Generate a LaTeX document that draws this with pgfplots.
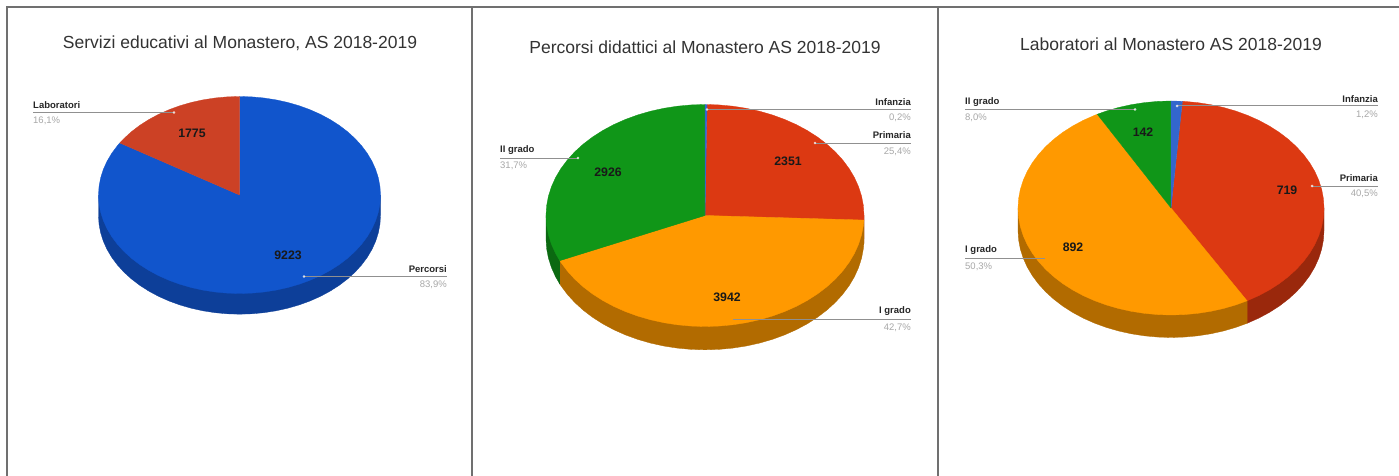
\documentclass[border=0pt]{standalone}
\usepackage{fontspec}
\setmainfont{Liberation Sans}
\usepackage{pgfplots}
\pgfplotsset{compat=1.18}

\definecolor{gblue}{HTML}{1155CC}
\definecolor{gblueD}{HTML}{0D3F99}
\definecolor{sblue}{HTML}{3366CC}
\definecolor{bric}{HTML}{CC4125}
\definecolor{gred}{HTML}{DC3912}
\definecolor{gredD}{HTML}{9A280C}
\definecolor{gorange}{HTML}{FF9900}
\definecolor{gorangeD}{HTML}{B26B00}
\definecolor{ggreen}{HTML}{109618}
\definecolor{ggreenD}{HTML}{0B6911}
\definecolor{framecol}{HTML}{707070}
\definecolor{leader}{HTML}{909090}
\definecolor{pctcol}{HTML}{A8A8A8}

% Each pie lives in its own axis, in which the top face is the unit circle.
\pgfplotsset{
  pie axis/.style={
    scale only axis, hide axis, clip=false, anchor=south west,
    xmin=-1, xmax=1, ymin=-1, ymax=1},
  slice/.style={fill=#1, draw=#1, line width=0.3pt, mark=none},
  lead/.style={draw=leader, line width=1pt, mark=none},
}
\newcommand{\ttl}[3]{\node[font=\fontsize{17.5}{20}\selectfont, text=black!80] at (axis cs:#1,#2) {#3};}
\newcommand{\catL}[3]{\node[anchor=west, inner sep=0pt, font=\fontsize{9.5}{11}\selectfont\bfseries, text=black!85] at (axis cs:#1,#2) {#3};}
\newcommand{\catR}[3]{\node[anchor=east, inner sep=0pt, font=\fontsize{9.5}{11}\selectfont\bfseries, text=black!85] at (axis cs:#1,#2) {#3};}
\newcommand{\pctL}[3]{\node[anchor=west, inner sep=0pt, font=\fontsize{9.5}{11}\selectfont, text=pctcol] at (axis cs:#1,#2) {#3};}
\newcommand{\pctR}[3]{\node[anchor=east, inner sep=0pt, font=\fontsize{9.5}{11}\selectfont, text=pctcol] at (axis cs:#1,#2) {#3};}
\newcommand{\val}[3]{\node[inner sep=0pt, font=\fontsize{12.3}{14}\selectfont\bfseries, text=black!90] at (axis cs:#1,#2) {#3};}

\begin{document}
\begin{tikzpicture}

% White sheet that fixes the size of the picture
\begin{axis}[at={(0pt,0pt)}, anchor=south west, scale only axis, hide axis,
    width=1399pt, height=476pt, xmin=0, xmax=1399, ymin=0, ymax=476]
\addplot[fill=white, draw=none, mark=none] coordinates {(0,0)(1399,0)(1399,476)(0,476)} -- cycle;
\end{axis}

% Pie 1: Percorsi 9223, Laboratori 1775
\begin{axis}[pie axis, at={(98.5pt,182.5pt)}, width=282pt, height=197pt]
\addplot[slice=gblueD] coordinates {(1,0)(1,-.21)(.9962,-.2972)(.9848,-.3836)(.9659,-.4688)(.9397,-.552)(.9063,-.6326)(.866,-.71)(.8192,-.7836)(.766,-.8528)(.7071,-.9171)(.6428,-.976)(.5736,-1.0292)(.5,-1.076)(.4226,-1.1163)(.342,-1.1497)(.2588,-1.1759)(.1736,-1.1948)(.0872,-1.2062)(0,-1.21)(-.0872,-1.2062)(-.1736,-1.1948)(-.2588,-1.1759)(-.342,-1.1497)(-.4226,-1.1163)(-.5,-1.076)(-.5736,-1.0292)(-.6428,-.976)(-.7071,-.9171)(-.766,-.8528)(-.8192,-.7836)(-.866,-.71)(-.9063,-.6326)(-.9397,-.552)(-.9659,-.4688)(-.9848,-.3836)(-.9962,-.2972)(-1,-.21)(-1,0)} -- cycle;
\addplot[slice=gblue] coordinates {(0,0)(0,1)(.0872,.9962)(.1736,.9848)(.2588,.9659)(.342,.9397)(.4226,.9063)(.5,.866)(.5736,.8192)(.6428,.766)(.7071,.7071)(.766,.6428)(.8192,.5736)(.866,.5)(.9063,.4226)(.9397,.342)(.9659,.2588)(.9848,.1736)(.9962,.0872)(1,0)(.9962,-.0872)(.9848,-.1736)(.9659,-.2588)(.9397,-.342)(.9063,-.4226)(.866,-.5)(.8192,-.5736)(.766,-.6428)(.7071,-.7071)(.6428,-.766)(.5736,-.8192)(.5,-.866)(.4226,-.9063)(.342,-.9397)(.2588,-.9659)(.1736,-.9848)(.0872,-.9962)(0,-1)(-.0872,-.9962)(-.1736,-.9848)(-.2588,-.9659)(-.342,-.9397)(-.4226,-.9063)(-.5,-.866)(-.5736,-.8192)(-.6428,-.766)(-.7071,-.7071)(-.766,-.6428)(-.8192,-.5736)(-.866,-.5)(-.9063,-.4226)(-.9397,-.342)(-.9659,-.2588)(-.9848,-.1736)(-.9962,-.0872)(-1,0)(-.9962,.0872)(-.9848,.1736)(-.9659,.2588)(-.9397,.342)(-.9063,.4226)(-.866,.5)(-.849,.5284)} -- cycle;
\addplot[slice=bric] coordinates {(0,0)(-.849,.5284)(-.8192,.5736)(-.766,.6428)(-.7071,.7071)(-.6428,.766)(-.5736,.8192)(-.5,.866)(-.4226,.9063)(-.342,.9397)(-.2588,.9659)(-.1736,.9848)(-.0872,.9962)(0,1)} -- cycle;
\end{axis}

% Pie 2: Infanzia 19, Primaria 2351, I grado 3942, II grado 2926
\begin{axis}[pie axis, at={(546pt,149.5pt)}, width=318pt, height=222pt]
\addplot[slice=gredD] coordinates {(1,0)(1,-.21)(.9992,-.2512)(.9992,-.0412)} -- cycle;
\addplot[slice=gorangeD] coordinates {(0,0)(.9992,-.0412)(.9992,-.2512)(.9962,-.2972)(.9848,-.3836)(.9659,-.4688)(.9397,-.552)(.9063,-.6326)(.866,-.71)(.8192,-.7836)(.766,-.8528)(.7071,-.9171)(.6428,-.976)(.5736,-1.0292)(.5,-1.076)(.4226,-1.1163)(.342,-1.1497)(.2588,-1.1759)(.1736,-1.1948)(.0872,-1.2062)(0,-1.21)(-.0872,-1.2062)(-.1736,-1.1948)(-.2588,-1.1759)(-.342,-1.1497)(-.4226,-1.1163)(-.5,-1.076)(-.5736,-1.0292)(-.6428,-.976)(-.7071,-.9171)(-.766,-.8528)(-.8192,-.7836)(-.866,-.71)(-.9063,-.6326)(-.9134,-.617)(-.9134,-.407)} -- cycle;
\addplot[slice=ggreenD] coordinates {(0,0)(-.9134,-.407)(-.9134,-.617)(-.9397,-.552)(-.9659,-.4688)(-.9848,-.3836)(-.9962,-.2972)(-1,-.21)(-1,0)} -- cycle;
\addplot[slice=gred] coordinates {(0,0)(.0129,.9999)(.0872,.9962)(.1736,.9848)(.2588,.9659)(.342,.9397)(.4226,.9063)(.5,.866)(.5736,.8192)(.6428,.766)(.7071,.7071)(.766,.6428)(.8192,.5736)(.866,.5)(.9063,.4226)(.9397,.342)(.9659,.2588)(.9848,.1736)(.9962,.0872)(1,0)(.9992,-.0412)} -- cycle;
\addplot[slice=gorange] coordinates {(0,0)(.9992,-.0412)(.9962,-.0872)(.9848,-.1736)(.9659,-.2588)(.9397,-.342)(.9063,-.4226)(.866,-.5)(.8192,-.5736)(.766,-.6428)(.7071,-.7071)(.6428,-.766)(.5736,-.8192)(.5,-.866)(.4226,-.9063)(.342,-.9397)(.2588,-.9659)(.1736,-.9848)(.0872,-.9962)(0,-1)(-.0872,-.9962)(-.1736,-.9848)(-.2588,-.9659)(-.342,-.9397)(-.4226,-.9063)(-.5,-.866)(-.5736,-.8192)(-.6428,-.766)(-.7071,-.7071)(-.766,-.6428)(-.8192,-.5736)(-.866,-.5)(-.9063,-.4226)(-.9134,-.407)} -- cycle;
\addplot[slice=ggreen] coordinates {(0,0)(-.9134,-.407)(-.9397,-.342)(-.9659,-.2588)(-.9848,-.1736)(-.9962,-.0872)(-1,0)(-.9962,.0872)(-.9848,.1736)(-.9659,.2588)(-.9397,.342)(-.9063,.4226)(-.866,.5)(-.8192,.5736)(-.766,.6428)(-.7071,.7071)(-.6428,.766)(-.5736,.8192)(-.5,.866)(-.4226,.9063)(-.342,.9397)(-.2588,.9659)(-.1736,.9848)(-.0872,.9962)(0,1)} -- cycle;
\addplot[slice=sblue] coordinates {(0,0)(0,1)(.0129,.9999)} -- cycle;
\end{axis}

% Pie 3: Infanzia 21, Primaria 719, I grado 892, II grado 142
\begin{axis}[pie axis, at={(1018pt,161pt)}, width=306pt, height=214pt]
\addplot[slice=gredD] coordinates {(1,0)(1,-.21)(.9962,-.2972)(.9848,-.3836)(.9659,-.4688)(.9397,-.552)(.9063,-.6326)(.866,-.71)(.8192,-.7836)(.766,-.8528)(.7071,-.9171)(.6428,-.976)(.5736,-1.0292)(.5,-1.076)(.4974,-1.0775)(.4974,-.8675)(0,0)} -- cycle;
\addplot[slice=gorangeD] coordinates {(0,0)(.4974,-.8675)(.4974,-1.0775)(.4226,-1.1163)(.342,-1.1497)(.2588,-1.1759)(.1736,-1.1948)(.0872,-1.2062)(0,-1.21)(-.0872,-1.2062)(-.1736,-1.1948)(-.2588,-1.1759)(-.342,-1.1497)(-.4226,-1.1163)(-.5,-1.076)(-.5736,-1.0292)(-.6428,-.976)(-.7071,-.9171)(-.766,-.8528)(-.8192,-.7836)(-.866,-.71)(-.9063,-.6326)(-.9397,-.552)(-.9659,-.4688)(-.9848,-.3836)(-.9962,-.2972)(-1,-.21)(-1,0)} -- cycle;
\addplot[slice=gred] coordinates {(0,0)(.0743,.9972)(.0872,.9962)(.1736,.9848)(.2588,.9659)(.342,.9397)(.4226,.9063)(.5,.866)(.5736,.8192)(.6428,.766)(.7071,.7071)(.766,.6428)(.8192,.5736)(.866,.5)(.9063,.4226)(.9397,.342)(.9659,.2588)(.9848,.1736)(.9962,.0872)(1,0)(.9962,-.0872)(.9848,-.1736)(.9659,-.2588)(.9397,-.342)(.9063,-.4226)(.866,-.5)(.8192,-.5736)(.766,-.6428)(.7071,-.7071)(.6428,-.766)(.5736,-.8192)(.5,-.866)(.4974,-.8675)} -- cycle;
\addplot[slice=gorange] coordinates {(0,0)(.4974,-.8675)(.4226,-.9063)(.342,-.9397)(.2588,-.9659)(.1736,-.9848)(.0872,-.9962)(0,-1)(-.0872,-.9962)(-.1736,-.9848)(-.2588,-.9659)(-.342,-.9397)(-.4226,-.9063)(-.5,-.866)(-.5736,-.8192)(-.6428,-.766)(-.7071,-.7071)(-.766,-.6428)(-.8192,-.5736)(-.866,-.5)(-.9063,-.4226)(-.9397,-.342)(-.9659,-.2588)(-.9848,-.1736)(-.9962,-.0872)(-1,0)(-.9962,.0872)(-.9848,.1736)(-.9659,.2588)(-.9397,.342)(-.9063,.4226)(-.866,.5)(-.8192,.5736)(-.766,.6428)(-.7071,.7071)(-.6428,.766)(-.5736,.8192)(-.5,.866)(-.4821,.8761)} -- cycle;
\addplot[slice=ggreen] coordinates {(0,0)(-.4821,.8761)(-.4226,.9063)(-.342,.9397)(-.2588,.9659)(-.1736,.9848)(-.0872,.9962)(0,1)} -- cycle;
\addplot[slice=sblue] coordinates {(0,0)(0,1)(.0743,.9972)} -- cycle;
\end{axis}

% Panel frames, leader lines and all text, in a coordinate system counted from the top left
\begin{axis}[at={(0pt,0pt)}, anchor=south west, scale only axis, hide axis, clip=true,
    width=1399pt, height=476pt, xmin=0, xmax=1399, ymin=0, ymax=476, y dir=reverse]
\addplot[framecol, line width=2pt, mark=none] coordinates {(7,476)(7,7)(1399,7)};
\addplot[framecol, line width=2pt, mark=none] coordinates {(472,7)(472,476)};
\addplot[framecol, line width=2pt, mark=none] coordinates {(938,7)(938,476)};

\addplot[lead] coordinates {(33,112.5)(174,112.5)};
\addplot[lead] coordinates {(304,276.5)(447,276.5)};
\addplot[lead] coordinates {(707,109.5)(911,109.5)};
\addplot[lead] coordinates {(815,143)(911,143)};
\addplot[lead] coordinates {(500,158)(578,158)};
\addplot[lead] coordinates {(733,319)(911,319)};
\addplot[lead] coordinates {(1177,106)(1378,106)};
\addplot[lead] coordinates {(1312,186)(1378,186)};
\addplot[lead] coordinates {(965,109.5)(1135,109.5)};
\addplot[lead] coordinates {(965,258)(1045,258)};

\addplot[only marks, mark=*, mark size=1.2pt, color=white, opacity=0.65] coordinates {(174,112.5)(304,276.5)(707,109.5)(815,143)(578,158)(1177,106)(1312,186)(1135,109.5)};

\ttl{240}{43}{Servizi educativi al Monastero, AS 2018-2019}
\ttl{705}{47}{Percorsi didattici al Monastero AS 2018-2019}
\ttl{1171}{44}{Laboratori al Monastero AS 2018-2019}

\catL{33}{105}{Laboratori}  \pctL{33}{121}{16,1\%}
\catR{447}{269}{Percorsi}   \pctR{447}{285}{83,9\%}
\catR{911}{102}{Infanzia}   \pctR{911}{118}{0,2\%}
\catR{911}{135}{Primaria}   \pctR{911}{152}{25,4\%}
\catL{500}{150}{II grado}   \pctL{500}{166}{31,7\%}
\catR{911}{311}{I grado}    \pctR{911}{328}{42,7\%}
\catR{1378}{99}{Infanzia}   \pctR{1378}{115}{1,2\%}
\catR{1378}{178}{Primaria}  \pctR{1378}{194}{40,5\%}
\catL{965}{102}{II grado}   \pctL{965}{118}{8,0\%}
\catL{965}{250}{I grado}    \pctL{965}{267}{50,3\%}

\val{192}{133}{1775}
\val{288}{255}{9223}
\val{788}{161}{2351}
\val{608}{172}{2926}
\val{727}{297}{3942}
\val{1143}{132}{142}
\val{1287}{190}{719}
\val{1073}{247}{892}
\end{axis}
\end{tikzpicture}
\end{document}
